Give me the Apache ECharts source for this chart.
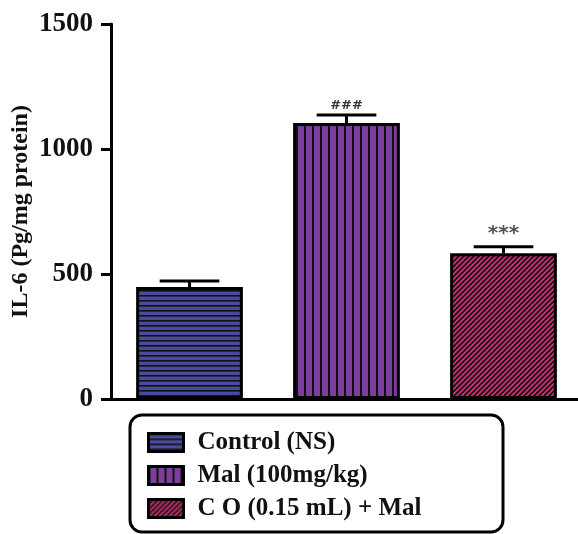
<!DOCTYPE html>
<html>
<head>
<meta charset="utf-8">
<script src="https://cdn.jsdelivr.net/npm/echarts@6/dist/echarts.min.js"></script>
<style>
  html, body { margin: 0; padding: 0; background: #fff; }
  #il6 { width: 578px; height: 534px; }
</style>
</head>
<body>
<div id="il6"></div>
<script>
var categories = ['Control (NS)', 'Mal (100mg/kg)', 'C O (0.15 mL) + Mal'];
var means = [448, 1104, 583];
var errTops = [472, 1136, 609];
var marks = ['', '###', '***'];
var yTicks = [0, 500, 1000, 1500];

// striped fills, like the prism hatching
function makePattern(kind, fill) {
    var c = document.createElement('canvas');
    var p = kind === 'h' ? 5 : (kind === 'v' ? 8 : 5);
    c.width = p; c.height = p;
    var g = c.getContext('2d');
    g.fillStyle = fill;
    g.fillRect(0, 0, p, p);
    g.fillStyle = '#111';
    g.strokeStyle = '#111';
    if (kind === 'h') {
        g.fillRect(0, 0, p, 1.6);
    } else if (kind === 'v') {
        g.fillRect(0, 0, 2, p);
    } else {
        g.lineWidth = 1.6;
        g.beginPath();
        g.moveTo(-1, p + 1); g.lineTo(p + 1, -1);
        g.moveTo(-1, 1); g.lineTo(1, -1);
        g.moveTo(p - 1, p + 1); g.lineTo(p + 1, p - 1);
        g.stroke();
    }
    return { image: c, repeat: 'repeat' };
}

var fills = [
    makePattern('h', '#4a4a9e'),
    makePattern('v', '#7e3d9a'),
    makePattern('d', '#d02f75')
];

var serif = 'Liberation Serif';

var myChart = echarts.init(document.getElementById('il6'));

var series = categories.map(function (name, i) {
    return {
        name: name,
        type: 'bar',
        barWidth: '68%',
        barGap: '-100%',
        data: categories.map(function (c, j) { return j === i ? means[j] : '-'; }),
        itemStyle: {
            color: fills[i],
            borderColor: '#000',
            borderWidth: 3
        },
        z: 2
    };
});

series.push({
    name: 'err',
    type: 'custom',
    data: means.map(function (m, i) { return [i, m, errTops[i], marks[i]]; }),
    renderItem: function (params, api) {
        var base = api.coord([api.value(0), api.value(1)]);
        var top = api.coord([api.value(0), api.value(2)]);
        var half = api.size([1, 0])[0] * 0.19;
        var mark = marks[params.dataIndex];
        var kids = [
            { type: 'line', shape: { x1: base[0], y1: base[1], x2: top[0], y2: top[1] },
              style: { stroke: '#000', lineWidth: 3 } },
            { type: 'line', shape: { x1: top[0] - half, y1: top[1], x2: top[0] + half, y2: top[1] },
              style: { stroke: '#000', lineWidth: 3 } }
        ];
        if (mark) {
            kids.push({
                type: 'text',
                x: top[0], y: top[1] - 3,
                style: {
                    text: mark,
                    x: 0, y: 0,
                    align: 'center', verticalAlign: 'bottom',
                    fill: mark === '***' ? '#555' : '#333',
                    font: mark === '***' ? 'bold 20px DejaVu Sans' : 'bold 13px DejaVu Sans'
                }
            });
        }
        return { type: 'group', children: kids };
    },
    z: 3,
    silent: true
});

var option = {
    animation: false,
    backgroundColor: '#fff',
    grid: { left: 111, top: 24, width: 471, height: 375, outerBoundsMode: 'none' },
    xAxis: {
        type: 'category',
        data: categories,
        axisLine: { lineStyle: { color: '#000', width: 3 } },
        axisTick: { show: false },
        axisLabel: { show: false }
    },
    yAxis: {
        type: 'value',
        min: yTicks[0],
        max: yTicks[yTicks.length - 1],
        interval: 500,
        name: 'IL-6 (Pg/mg protein)',
        nameLocation: 'middle',
        nameRotate: 90,
        nameGap: 78,
        nameMoveOverlap: false,
        nameTextStyle: { fontFamily: serif, fontWeight: 'bold', fontSize: 24, color: '#111' },
        axisLine: { show: true, lineStyle: { color: '#000', width: 3 } },
        axisTick: { show: true, length: 10, lineStyle: { color: '#000', width: 3 } },
        axisLabel: {
            fontFamily: serif, fontWeight: 'bold', fontSize: 27, color: '#111', margin: 18,
            formatter: function (v) { return String(v); }
        },
        splitLine: { show: false }
    },
    legend: {
        data: categories,
        orient: 'vertical',
        left: 147,
        top: 430,
        padding: 0,
        icon: 'rect',
        itemWidth: 35,
        itemHeight: 18,
        itemGap: 8,
        itemStyle: { borderColor: '#000', borderWidth: 3 },
        textStyle: { fontFamily: serif, fontWeight: 'bold', fontSize: 25, lineHeight: 25, color: '#111', padding: [0, 0, 0, 9] },
        selectedMode: false
    },
    graphic: [{
        type: 'rect',
        shape: { x: 130, y: 415, width: 373, height: 117, r: 12 },
        style: { fill: 'none', stroke: '#000', lineWidth: 3 },
        z: 0
    }],
    series: series
};

myChart.setOption(option, true);
</script>
</body>
</html>
